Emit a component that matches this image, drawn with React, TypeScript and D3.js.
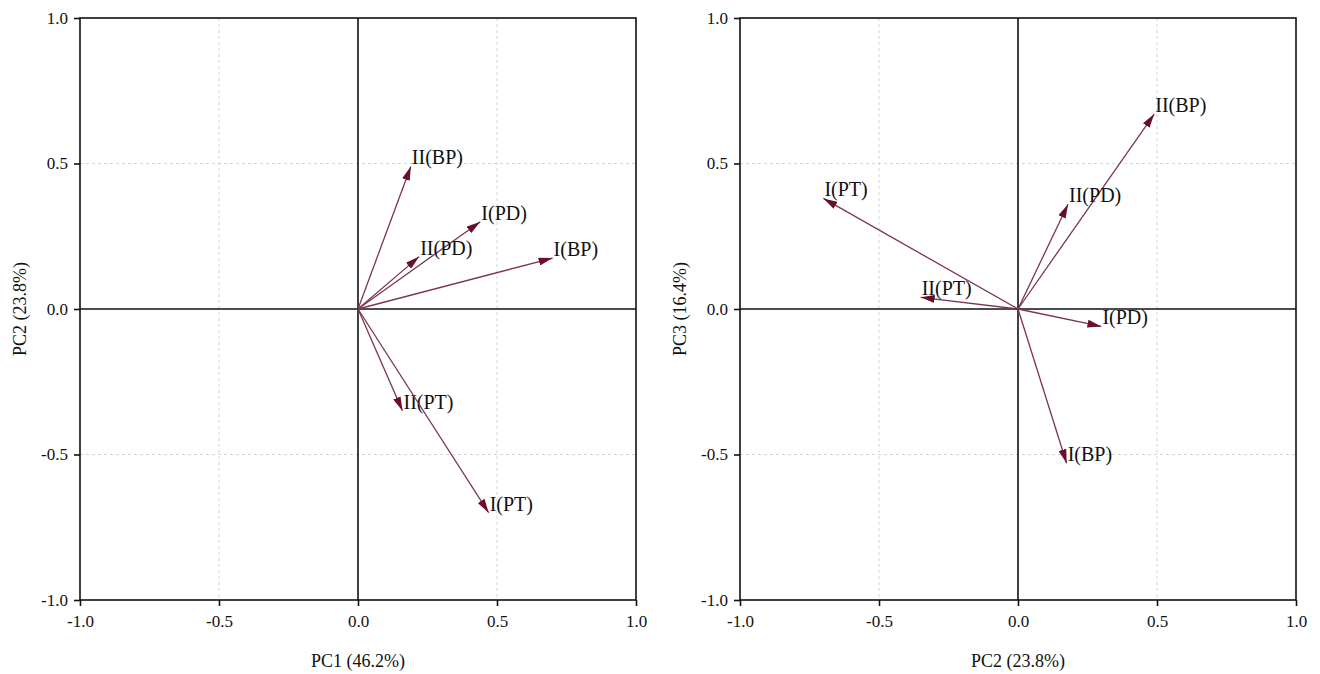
import React, { useEffect, useRef } from 'react';
import * as d3 from 'd3';

// loadings
const traits = ['II(BP)', 'I(PD)', 'II(PD)', 'I(BP)', 'II(PT)', 'I(PT)'];
const pc1 = [0.19, 0.44, 0.22, 0.70, 0.16, 0.47];
const pc2 = [0.49, 0.30, 0.18, 0.175, -0.35, -0.70];
const pc3 = [0.67, -0.06, 0.36, -0.53, 0.04, 0.38];
const ticks = [-1.0, -0.5, 0.0, 0.5, 1.0];

const W = 1320;
const H = 674;
const serif = '"Liberation Serif", "Times New Roman", serif';
const arrowColor = '#6a0e2e';
const lineColor = '#7b3554';

// plain hyphen for negatives, like the original
const fmt = (d) => d.toFixed(1);

function drawBiplot(svg, left, xs, ys, xTitle, yTitle, id) {
    const right = left + 556;
    const top = 18;
    const bottom = 600;

    const x = d3.scaleLinear().domain([-1, 1]).range([left, right]);
    const y = d3.scaleLinear().domain([-1, 1]).range([bottom, top]);

    const g = svg.append('g');

    g.append('defs').append('marker')
        .attr('id', 'head' + id)
        .attr('markerUnits', 'userSpaceOnUse')
        .attr('viewBox', '0 0 14 8')
        .attr('markerWidth', 14)
        .attr('markerHeight', 8)
        .attr('refX', 14)
        .attr('refY', 4)
        .attr('orient', 'auto')
        .append('path')
        .attr('d', 'M0,0 L14,4 L0,8 Z')
        .attr('fill', arrowColor);

    // dashed grid
    [-0.5, 0.5].forEach((v) => {
        g.append('line')
            .attr('x1', x(v)).attr('x2', x(v))
            .attr('y1', top).attr('y2', bottom)
            .attr('stroke', '#d4d4d4').attr('stroke-dasharray', '3,3');
        g.append('line')
            .attr('x1', left).attr('x2', right)
            .attr('y1', y(v)).attr('y2', y(v))
            .attr('stroke', '#d4d4d4').attr('stroke-dasharray', '3,3');
    });

    // zero lines
    g.append('line')
        .attr('x1', x(0)).attr('x2', x(0)).attr('y1', top).attr('y2', bottom)
        .attr('stroke', '#111').attr('stroke-width', 1.6);
    g.append('line')
        .attr('x1', left).attr('x2', right).attr('y1', y(0)).attr('y2', y(0))
        .attr('stroke', '#111').attr('stroke-width', 1.6);

    // frame
    g.append('rect')
        .attr('x', left).attr('y', top)
        .attr('width', right - left).attr('height', bottom - top)
        .attr('fill', 'none').attr('stroke', '#111').attr('stroke-width', 1.6);

    // axes
    const xAxis = g.append('g')
        .attr('transform', `translate(0,${bottom})`)
        .call(d3.axisBottom(x).tickValues(ticks).tickFormat(fmt).tickSize(6).tickPadding(9));
    const yAxis = g.append('g')
        .attr('transform', `translate(${left},0)`)
        .call(d3.axisLeft(y).tickValues(ticks).tickFormat(fmt).tickSize(6).tickPadding(6));
    [xAxis, yAxis].forEach((a) => {
        a.select('.domain').remove();
        a.selectAll('line').attr('stroke', '#111').attr('stroke-width', 1.6);
        a.selectAll('text')
            .attr('font-family', serif)
            .attr('font-size', 17)
            .attr('fill', '#111');
    });

    g.append('text')
        .attr('x', (left + right) / 2).attr('y', 667)
        .attr('text-anchor', 'middle')
        .attr('font-family', serif).attr('font-size', 18).attr('fill', '#111')
        .text(xTitle);
    g.append('text')
        .attr('transform', `translate(${left - 54},${(top + bottom) / 2}) rotate(-90)`)
        .attr('text-anchor', 'middle')
        .attr('font-family', serif).attr('font-size', 18).attr('fill', '#111')
        .text(yTitle);

    // loading vectors
    traits.forEach((t, i) => {
        g.append('line')
            .attr('x1', x(0)).attr('y1', y(0))
            .attr('x2', x(xs[i])).attr('y2', y(ys[i]))
            .attr('stroke', lineColor).attr('stroke-width', 1.3)
            .attr('marker-end', `url(#head${id})`);
        g.append('text')
            .attr('x', x(xs[i]) + 1).attr('y', y(ys[i]) - 2)
            .attr('font-family', serif).attr('font-size', 20).attr('fill', '#111')
            .text(t);
    });
}

function App() {
    const ref = useRef(null);

    useEffect(() => {
        const svg = d3.select(ref.current);
        svg.selectAll('*').remove();
        drawBiplot(svg, 80, pc1, pc2, 'PC1 (46.2%)', 'PC2 (23.8%)', 'a');
        drawBiplot(svg, 740, pc2, pc3, 'PC2 (23.8%)', 'PC3 (16.4%)', 'b');
    }, []);

    return (
        <svg
            ref={ref}
            width={W}
            height={H}
            style={{ position: 'absolute', left: 0, top: 0, background: '#fff' }}
        />
    );
}

export default App;
